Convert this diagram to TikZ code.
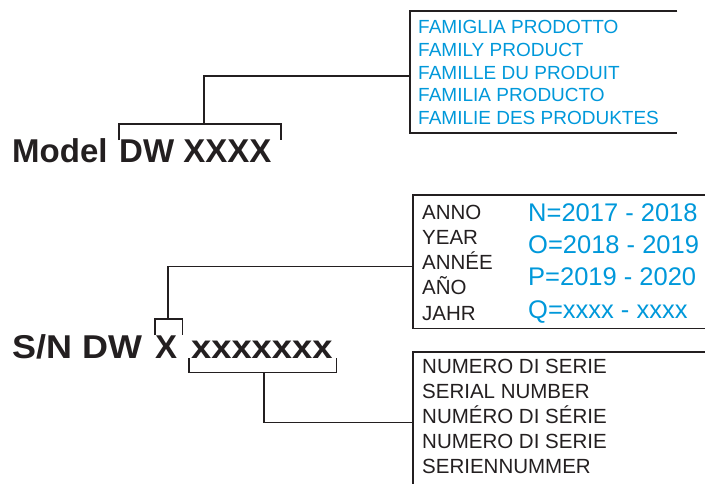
\documentclass[tikz,border=0pt]{standalone}
\usepackage{fontspec}
\setmainfont{Liberation Sans}

\definecolor{ink}{RGB}{35,31,32}
\definecolor{codeblue}{RGB}{0,152,218}

\begin{document}
\begin{tikzpicture}[x=1pt, y=-1pt]
    % Define styles
    \tikzset{
        bigcode/.style={anchor=base west, inner sep=0pt, text=ink, font=\fontsize{33}{36}\selectfont\bfseries},
        famtext/.style={anchor=base west, inner sep=0pt, text=codeblue, font=\fontsize{19}{23}\selectfont},
        entry/.style={anchor=base west, inner sep=0pt, text=ink, font=\fontsize{20.5}{25}\selectfont},
        yeartext/.style={anchor=base west, inner sep=0pt, text=codeblue, font=\fontsize{25.5}{32}\selectfont},
        boxframe/.style={draw=none, inner sep=0pt, anchor=north west},
        thickline/.style={draw=ink, line width=2pt},
        thinline/.style={draw=ink, line width=1.3pt}
    }
    \useasboundingbox (0,0) rectangle (705,484);

    % Model code
    \node[bigcode] (model) at (12,163) {Model};
    \node[bigcode] (modelcode) at (119,163) {DW XXXX};

    % Family box
    \node[boxframe, minimum width=267pt, minimum height=122pt] (famBox) at (410,11) {};
    \draw[thickline] (famBox.north east) -- (famBox.north west) -- (famBox.south west) -- (famBox.south east);
    \foreach \t [count=\i from 0] in {FAMIGLIA PRODOTTO, FAMILY PRODUCT, FAMILLE DU PRODUIT, FAMILIA PRODUCTO, FAMILIE DES PRODUKTES}
        \node[famtext] (fam-\i) at (418, 33.3+22.9*\i) {\t};

    % Bracket and connector
    \draw[thickline] (modelcode.north west) -- ++(0,-16) -| ([xshift=9pt]modelcode.north east);
    \coordinate (modelTop) at (204,123);
    \draw[thickline] (modelTop) |- ([yshift=-4pt]famBox.west);

    % Serial number code
    \node[bigcode] (sn) at (12,358) {\scalebox{1.09}[1]{S/N DW}};
    \node[bigcode] (yearcode) at (155,358) {X};
    \node[bigcode] (serialcode) at (191,358) {\scalebox{1.1}[1]{xxxxxxx}};

    % Year box
    \node[boxframe, minimum width=292pt, minimum height=133pt] (yearBox) at (413,195) {};
    \draw[thinline] (yearBox.north east) -- (yearBox.north west) -- (yearBox.south west) -- (yearBox.south east);
    \foreach \t [count=\i from 0] in {ANNO, YEAR, ANNÉE, AÑO, JAHR}
        \node[entry] (year-\i) at (422, 219.3+25.2*\i) {\t};
    \foreach \t [count=\i from 0] in {N=2017 - 2018, O=2018 - 2019, P=2019 - 2020, Q=xxxx - xxxx}
        \node[yeartext] (range-\i) at (528, 222+32*\i) {\t};

    % Year bracket and connector
    \draw[thinline] (yearcode.north west) -- ++(0,-16) -| ([xshift=5pt]yearcode.north east);
    \coordinate (yearTop) at (168,318);
    \draw[thinline] (yearTop) |- ([yshift=-4.5pt]yearBox.west);

    % Serial box
    \node[boxframe, minimum width=292pt, minimum height=132pt] (serialBox) at (413,352) {};
    \draw[thinline] (serialBox.north east) -- (serialBox.north west) -- (serialBox.south west);
    \foreach \t [count=\i from 0] in {NUMERO DI SERIE, SERIAL NUMBER, NUMÉRO DI SÉRIE, NUMERO DI SERIE, SERIENNUMMER}
        \node[entry] (serial-\i) at (422, 373.3+25*\i) {\t};

    % Serial bracket and connector
    \draw[thinline] ([xshift=-2pt]serialcode.south west) -- ++(0,14) -| ([xshift=4pt]serialcode.south east);
    \coordinate (serialBottom) at (264,372);
    \draw[thinline] (serialBottom) |- ([yshift=-4pt]serialBox.west);
\end{tikzpicture}
\end{document}
